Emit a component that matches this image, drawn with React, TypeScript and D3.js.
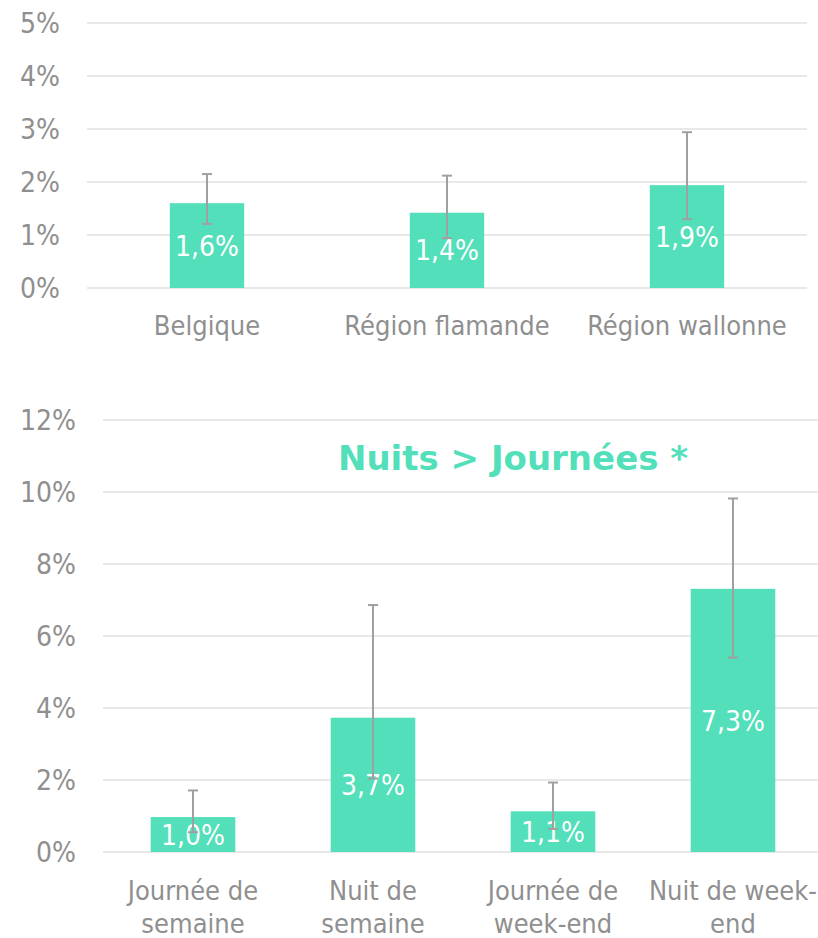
import { useEffect, useRef } from "react";
import * as d3 from "d3";

// top chart: regions
const regionCategories = [["Belgique"], ["Région flamande"], ["Région wallonne"]];
const regionValues = [1.6, 1.42, 1.94];
const regionLower = [1.21, 0.94, 1.3];
const regionUpper = [2.15, 2.12, 2.94];
const regionLabels = ["1,6%", "1,4%", "1,9%"];
const regionTicks = [0, 1, 2, 3, 4, 5];

// bottom chart: moments
const momentCategories = [
  ["Journée de", "semaine"],
  ["Nuit de", "semaine"],
  ["Journée de", "week-end"],
  ["Nuit de week-", "end"],
];
const momentValues = [0.97, 3.73, 1.13, 7.31];
const momentLower = [0.55, 2.04, 0.64, 5.4];
const momentUpper = [1.71, 6.86, 1.93, 9.82];
const momentLabels = ["1,0%", "3,7%", "1,1%", "7,3%"];
const momentTicks = [0, 2, 4, 6, 8, 10, 12];

const BAR = "#52dfb9";
const TEXT = "#8f8f8f";
const GRID = "#e8e8e8";
const ERR = "#a0a0a0";
const FONT = "'DejaVu Sans Condensed', 'DejaVu Sans', sans-serif";

type Panel = {
  cats: string[][];
  values: number[];
  lower: number[];
  upper: number[];
  labels: string[];
  ticks: number[];
  x0: number;
  x1: number;
  yTop: number;
  yBottom: number;
  padding: number;
  catY: number;
};

function drawPanel(svg: d3.Selection<SVGSVGElement, unknown, null, undefined>, p: Panel) {
  const g = svg.append("g");
  const idx = p.cats.map((_, i) => String(i));
  const x = d3.scaleBand().domain(idx).range([p.x0, p.x1]).paddingInner(p.padding).paddingOuter(p.padding / 2);
  const y = d3
    .scaleLinear()
    .domain([0, p.ticks[p.ticks.length - 1]])
    .range([p.yBottom, p.yTop]);

  g.selectAll("line.grid")
    .data(p.ticks)
    .enter()
    .append("line")
    .attr("x1", p.x0)
    .attr("x2", p.x1)
    .attr("y1", (d) => y(d))
    .attr("y2", (d) => y(d))
    .attr("stroke", GRID)
    .attr("stroke-width", 2);

  g.selectAll("text.tick")
    .data(p.ticks)
    .enter()
    .append("text")
    .attr("x", p.x0 - 27)
    .attr("y", (d) => y(d))
    .attr("dy", "0.36em")
    .attr("text-anchor", "end")
    .attr("fill", TEXT)
    .style("font-family", FONT)
    .style("font-size", "28px")
    .text((d) => `${d}%`);

  g.selectAll("rect")
    .data(p.values)
    .enter()
    .append("rect")
    .attr("x", (_, i) => x(String(i)) ?? 0)
    .attr("y", (d) => y(d))
    .attr("width", x.bandwidth())
    .attr("height", (d) => y(0) - y(d))
    .attr("fill", BAR);

  const cx = (i: number) => (x(String(i)) ?? 0) + x.bandwidth() / 2;

  g.selectAll("text.val")
    .data(p.values)
    .enter()
    .append("text")
    .attr("x", (_, i) => cx(i))
    .attr("y", (d) => (y(d) + y(0)) / 2)
    .attr("dy", "0.36em")
    .attr("text-anchor", "middle")
    .attr("fill", "#ffffff")
    .style("font-family", FONT)
    .style("font-size", "28px")
    .text((_, i) => p.labels[i]);

  const err = g.append("g").attr("stroke", ERR).attr("stroke-width", 2);
  p.values.forEach((_, i) => {
    const c = cx(i);
    err.append("line").attr("x1", c).attr("x2", c).attr("y1", y(p.lower[i])).attr("y2", y(p.upper[i]));
    [p.lower[i], p.upper[i]].forEach((v) => {
      err.append("line").attr("x1", c - 5).attr("x2", c + 5).attr("y1", y(v)).attr("y2", y(v));
    });
  });

  p.cats.forEach((lines, i) => {
    const t = g
      .append("text")
      .attr("text-anchor", "middle")
      .attr("fill", TEXT)
      .style("font-family", FONT)
      .style("font-size", "27px");
    lines.forEach((line, j) => {
      t.append("tspan")
        .attr("x", cx(i))
        .attr("y", p.catY + j * 33)
        .attr("dy", "0.36em")
        .text(line);
    });
  });
}

export default function App() {
  const ref = useRef<SVGSVGElement>(null);

  useEffect(() => {
    if (!ref.current) return;
    const svg = d3.select(ref.current);
    svg.selectAll("*").remove();

    drawPanel(svg, {
      cats: regionCategories,
      values: regionValues,
      lower: regionLower,
      upper: regionUpper,
      labels: regionLabels,
      ticks: regionTicks,
      x0: 87,
      x1: 807,
      yTop: 23,
      yBottom: 288,
      padding: 0.69,
      catY: 325,
    });

    drawPanel(svg, {
      cats: momentCategories,
      values: momentValues,
      lower: momentLower,
      upper: momentUpper,
      labels: momentLabels,
      ticks: momentTicks,
      x0: 103,
      x1: 823,
      yTop: 420,
      yBottom: 852,
      padding: 0.53,
      catY: 890,
    });

    svg
      .append("text")
      .attr("x", 513)
      .attr("y", 470)
      .attr("text-anchor", "middle")
      .attr("fill", BAR)
      .style("font-family", "'DejaVu Sans', sans-serif")
      .style("font-weight", "bold")
      .style("font-size", "34px")
      .text("Nuits > Journées *");
  }, []);

  return (
    <svg
      ref={ref}
      width={818}
      height={938}
      style={{ position: "absolute", left: 0, top: 0, background: "#ffffff" }}
    />
  );
}
